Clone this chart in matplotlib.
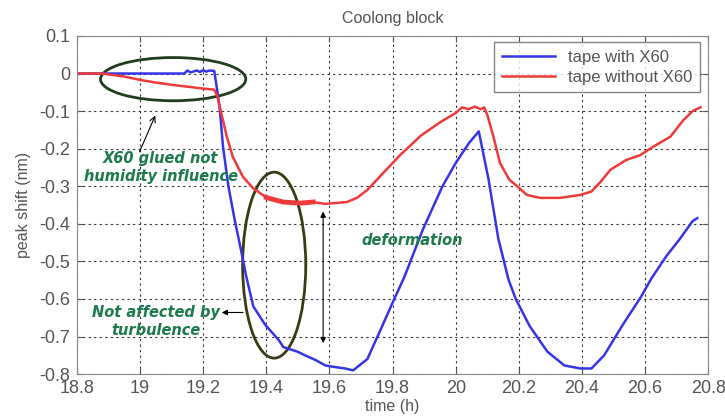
import matplotlib
matplotlib.use("Agg")
import matplotlib.pyplot as plt
from matplotlib.patches import Ellipse

# time (h) and peak shift (nm)
t_with = [18.80, 19.10, 19.14, 19.15, 19.16, 19.18, 19.19, 19.20, 19.21, 19.22, 19.235,
          19.242, 19.253, 19.263, 19.28, 19.30, 19.32, 19.337, 19.359, 19.396, 19.44,
          19.454, 19.498, 19.528, 19.557, 19.587, 19.616, 19.65, 19.675, 19.72, 19.763,
          19.80, 19.837, 19.896, 19.958, 20.0, 20.042, 20.073, 20.104, 20.135, 20.167,
          20.19, 20.234, 20.29, 20.344, 20.395, 20.43, 20.47, 20.528, 20.587, 20.62,
          20.667, 20.71, 20.75, 20.765]
v_with = [0, 0, 0, 0.008, 0.003, 0.008, 0.004, 0.009, 0.005, 0.008, 0.007,
          -0.03, -0.097, -0.195, -0.30, -0.39, -0.47, -0.542, -0.62, -0.668, -0.71,
          -0.728, -0.74, -0.752, -0.763, -0.777, -0.781, -0.785, -0.79, -0.76, -0.68,
          -0.61, -0.542, -0.415, -0.30, -0.238, -0.185, -0.154, -0.282, -0.44, -0.548,
          -0.60, -0.672, -0.74, -0.777, -0.785, -0.785, -0.75, -0.67, -0.594, -0.545,
          -0.486, -0.44, -0.393, -0.385]

t_without = [18.80, 18.88, 18.95, 19.0, 19.05, 19.10, 19.15, 19.20, 19.235, 19.245, 19.253,
             19.275, 19.294, 19.326, 19.358, 19.40, 19.453, 19.507, 19.548, 19.586, 19.655,
             19.687, 19.72, 19.77, 19.824, 19.89, 19.95, 20.0, 20.02, 20.04, 20.06, 20.08,
             20.09, 20.10, 20.12, 20.14, 20.17, 20.195, 20.225, 20.267, 20.33, 20.395, 20.43,
             20.457, 20.49, 20.54, 20.585, 20.625, 20.68, 20.72, 20.75, 20.775]
v_without = [0, 0, -0.008, -0.017, -0.024, -0.030, -0.035, -0.040, -0.043, -0.06, -0.09,
             -0.168, -0.222, -0.275, -0.305, -0.33, -0.342, -0.345, -0.342, -0.347, -0.342,
             -0.331, -0.31, -0.265, -0.217, -0.165, -0.13, -0.105, -0.09, -0.095, -0.088, -0.095,
             -0.09, -0.11, -0.17, -0.238, -0.283, -0.30, -0.323, -0.331, -0.331, -0.323, -0.314,
             -0.29, -0.256, -0.23, -0.217, -0.195, -0.168, -0.125, -0.10, -0.09]

x_ticks = [18.8, 19, 19.2, 19.4, 19.6, 19.8, 20, 20.2, 20.4, 20.6, 20.8]
y_ticks = [0.1, 0, -0.1, -0.2, -0.3, -0.4, -0.5, -0.6, -0.7, -0.8]

blue = "#3535e8"
red = "#ee3a3a"
green = "#1c7a4c"
grey = "#555555"

plt.rcParams["font.family"] = ["Liberation Sans", "DejaVu Sans"]

fig = plt.figure(figsize=(7.25, 4.18), dpi=100)
ax = fig.add_axes([0.106, 0.105, 0.871, 0.809])

ax.plot(t_with, v_with, color=blue, lw=1.8, label="tape with X60")
ax.plot(t_without, v_without, color=red, lw=1.8, label="tape without X60")
# noisy stretch of the red curve looks thicker
noisy = [i for i, t in enumerate(t_without) if 19.37 <= t <= 19.56]
ax.plot([t_without[i] for i in noisy], [v_without[i] for i in noisy], color=red, lw=3.5)

ax.set_xlim(18.8, 20.8)
ax.set_ylim(-0.8, 0.1)
ax.set_xticks(x_ticks)
ax.set_xticklabels([f"{x:g}" for x in x_ticks])
ax.set_yticks(y_ticks)
ax.set_yticklabels([f"{y:g}" for y in y_ticks])
ax.grid(True, color="#333333", ls=(0, (2, 3)), lw=0.8)
ax.tick_params(direction="in", top=True, right=True, labelsize=13, colors=grey,
               length=4)
ax.tick_params(axis="y", pad=5)
ax.tick_params(axis="x", pad=4)
for s in ax.spines.values():
    s.set_color("#888888")

ax.set_title("Coolong block", fontsize=11.5, color=grey, pad=9)
ax.set_xlabel("time (h)", fontsize=11.5, color=grey, labelpad=2)
ax.set_ylabel("peak shift (nm)", fontsize=11.5, color=grey, labelpad=6)

leg = ax.legend(loc="upper right", fontsize=12, frameon=True, fancybox=False,
                handlelength=3.2, borderpad=0.45, labelspacing=0.3,
                borderaxespad=0, bbox_to_anchor=(0.987, 0.982))
leg.get_frame().set_edgecolor("#666666")
for txt in leg.get_texts():
    txt.set_color(grey)

# annotations
ax.add_patch(Ellipse((19.105, -0.015), 0.46, 0.115, fill=False, ec="#1f3d1f", lw=2))
ax.add_patch(Ellipse((19.425, -0.51), 0.2, 0.495, fill=False, ec="#3a3a14", lw=2))

ax.annotate("", xy=(19.052, -0.105), xytext=(18.995, -0.215),
            arrowprops=dict(arrowstyle="->", color="black", lw=0.8))
ax.text(19.065, -0.25, "X60 glued not\nhumidity influence", color=green, fontsize=10.5,
        fontweight="bold", style="italic", ha="center", va="center",
        family="DejaVu Sans", linespacing=1.3)

ax.annotate("", xy=(19.58, -0.36), xytext=(19.58, -0.725),
            arrowprops=dict(arrowstyle="<|-|>", color="black", lw=0.8,
                            mutation_scale=8))
ax.text(19.862, -0.445, "deformation", color=green, fontsize=10.5,
        fontweight="bold", style="italic", ha="center", va="center",
        family="DejaVu Sans")

ax.annotate("", xy=(19.25, -0.636), xytext=(19.335, -0.636),
            arrowprops=dict(arrowstyle="-|>", color="black", lw=0.8,
                            mutation_scale=8))
ax.text(19.05, -0.66, "Not affected by\nturbulence", color=green, fontsize=10.5,
        fontweight="bold", style="italic", ha="center", va="center",
        family="DejaVu Sans", linespacing=1.3)

fig.savefig("out.png", dpi=100)
